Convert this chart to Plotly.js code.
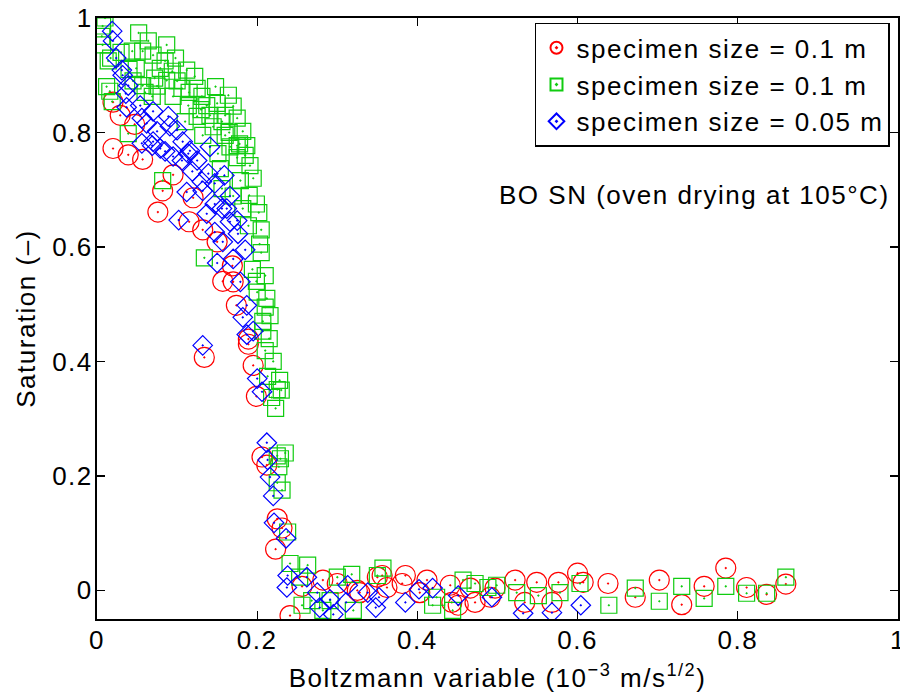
<!DOCTYPE html>
<html>
<head>
<meta charset="utf-8">
<script src="https://cdn.plot.ly/plotly-3.0.1.min.js"></script>
<style>
  html, body { margin: 0; padding: 0; background: #fff; }
  text { letter-spacing: 1.5px; }
</style>
</head>
<body>
<div id="chart" style="width:900px;height:695px;"></div>
<script>
// ---- data ----
const seriesNames = ["specimen size = 0.1 m", "specimen size = 0.1 m", "specimen size = 0.05 m"];

const redX = [0.020,0.029,0.047,0.020,0.039,0.057,0.095,0.082,0.076,0.120,
              0.115,0.132,0.150,0.169,0.157,0.170,0.174,0.189,0.189,0.134,
              0.195,0.199,0.206,0.212,0.225,0.231,0.223,0.241,0.256,0.282,
              0.300,0.325,0.328,0.350,0.356,0.362,0.381,0.385,0.403,0.412,
              0.441,0.443,0.451,0.466,0.472,0.491,0.497,0.522,0.534,0.549,
              0.568,0.576,0.600,0.607,0.638,0.672,0.702,0.730,0.758,0.785,
              0.811,0.836,0.860];
const redY = [0.853,0.830,0.814,0.772,0.761,0.753,0.726,0.698,0.661,0.686,
              0.644,0.630,0.609,0.567,0.540,0.539,0.498,0.439,0.430,0.407,
              0.393,0.339,0.233,0.219,0.125,0.109,0.072,-0.044,0.007,0.018,
              0.012,0.000,-0.004,0.023,0.026,0.005,0.012,0.026,-0.004,0.018,
              0.009,-0.021,-0.026,0.004,-0.021,-0.012,0.004,0.018,-0.021,0.014,
              -0.021,0.014,0.030,0.014,0.012,-0.012,0.018,-0.025,0.007,0.039,
              0.005,-0.007,0.011];

const greenX = [0.010,0.007,0.006,0.007,0.014,0.052,0.064,0.087,0.044,0.057,
                0.070,0.085,0.049,0.079,0.094,0.112,0.122,0.072,0.087,0.106,
                0.057,0.075,0.125,0.095,0.114,0.069,0.131,0.164,0.150,0.170,
                0.137,0.125,0.141,0.156,0.175,0.110,0.182,0.016,0.019,0.039,
                0.160,0.132,0.175,0.166,0.187,0.151,0.175,0.191,0.154,0.179,
                0.082,0.156,0.170,0.199,0.182,0.189,0.203,0.134,0.194,0.199,
                0.200,0.210,0.207,0.207,0.210,0.213,0.228,0.225,0.218,0.223,
                0.235,0.225,0.227,0.225,0.231,0.238,0.241,0.263,0.253,0.256,
                0.268,0.282,0.291,0.300,0.318,0.320,0.350,0.357,0.424,0.419,
                0.444,0.457,0.472,0.488,0.499,0.524,0.551,0.578,0.603,0.639,
                0.672,0.702,0.730,0.758,0.785,0.811,0.836,0.860,
                0.017,0.030,0.040,0.045,0.060,0.100,0.115,0.130,0.145,0.160,
                0.165,0.185,0.195,0.190,0.205,0.205,0.210,0.212,0.215,0.220,
                0.230,0.012,0.098,0.148,0.178,0.202,0.216,0.229];
const greenY = [1.000,0.986,0.968,0.953,0.925,0.974,0.960,0.953,0.942,0.942,
                0.935,0.925,0.912,0.912,0.907,0.909,0.898,0.895,0.891,0.877,
                0.882,0.881,0.877,0.863,0.847,0.863,0.863,0.865,0.851,0.846,
                0.847,0.828,0.830,0.819,0.825,0.819,0.802,0.872,0.854,0.798,
                0.795,0.795,0.777,0.775,0.777,0.763,0.756,0.742,0.737,0.716,
                0.716,0.702,0.689,0.675,0.667,0.637,0.605,0.581,0.561,0.540,
                0.521,0.495,0.470,0.453,0.419,0.374,0.367,0.351,0.337,0.318,
                0.240,0.235,0.216,0.188,0.175,0.102,0.047,0.044,0.023,-0.026,
                -0.018,-0.035,-0.018,0.023,0.028,-0.035,0.026,0.039,-0.012,-0.026,
                -0.035,0.018,0.012,0.005,0.009,-0.004,-0.009,-0.004,0.012,-0.026,
                0.004,-0.019,0.007,-0.014,0.007,-0.005,-0.005,0.023,
                0.930,0.940,0.910,0.890,0.870,0.890,0.870,0.840,0.810,0.830,
                0.800,0.760,0.720,0.690,0.630,0.590,0.550,0.510,0.440,0.400,
                0.350,0.880,0.930,0.880,0.780,0.660,0.480,0.230];

const blueX = [0.019,0.020,0.024,0.031,0.032,0.039,0.036,0.037,0.054,0.056,
               0.070,0.062,0.075,0.089,0.091,0.100,0.107,0.070,0.056,0.069,
               0.079,0.085,0.095,0.106,0.114,0.125,0.116,0.141,0.119,0.131,
               0.139,0.112,0.132,0.147,0.159,0.166,0.147,0.156,0.162,0.137,
               0.102,0.166,0.175,0.147,0.176,0.157,0.185,0.170,0.150,0.179,
               0.187,0.182,0.195,0.187,0.132,0.200,0.206,0.212,0.213,0.216,
               0.220,0.221,0.236,0.238,0.237,0.262,0.275,0.278,0.295,0.291,
               0.311,0.313,0.338,0.348,0.352,0.385,0.402,0.419,0.451,0.493,
               0.532,0.568,0.604];
const blueY = [0.977,0.960,0.930,0.909,0.900,0.882,0.868,0.844,0.847,0.825,
               0.837,0.816,0.802,0.828,0.811,0.804,0.784,0.784,0.781,0.777,
               0.772,0.767,0.758,0.751,0.763,0.751,0.768,0.775,0.732,0.714,
               0.728,0.696,0.698,0.711,0.725,0.689,0.675,0.667,0.667,0.658,
               0.647,0.644,0.646,0.626,0.623,0.609,0.595,0.579,0.572,0.539,
               0.498,0.477,0.453,0.447,0.428,0.370,0.347,0.258,0.228,0.198,
               0.165,0.118,0.091,0.026,0.005,0.023,-0.004,-0.030,-0.042,-0.016,
               -0.021,0.009,-0.004,-0.030,-0.012,-0.021,0.002,0.004,-0.009,-0.012,
               -0.040,-0.039,-0.026];

const tickVals = [0, 0.2, 0.4, 0.6, 0.8, 1];
const tickText = ["0", "0.2", "0.4", "0.6", "0.8", "1"];
const annotationText = "BO SN (oven drying at 105°C)";
const xTitle = "Boltzmann variable (10<sup>−3</sup> m/s<sup>1/2</sup>)";
const yTitle = "Saturation (–)";

// ---- chart ----
const FONT = "Liberation Sans, Arial, Helvetica, sans-serif";

const traces = [
  { x: redX, y: redY, name: seriesNames[0], type: "scatter", mode: "markers",
    marker: { symbol: "circle-open-dot", size: 20, color: "#ff0000", line: { width: 1.2 } } },
  { x: greenX, y: greenY, name: seriesNames[1], type: "scatter", mode: "markers",
    marker: { symbol: "square-open-dot", size: 16, color: "#10cc10", line: { width: 1.2 } } },
  { x: blueX, y: blueY, name: seriesNames[2], type: "scatter", mode: "markers",
    marker: { symbol: "diamond-open-dot", size: 15, color: "#0000ff", line: { width: 1.2 } } }
];

const axisCommon = {
  showline: true, linecolor: "#000", linewidth: 2, mirror: "ticks",
  ticks: "inside", ticklen: 8, tickwidth: 1.2, tickcolor: "#000",
  showgrid: false, zeroline: false,
  tickvals: tickVals, ticktext: tickText,
  ticklabeloverflow: "allow",
  tickfont: { family: FONT, size: 26, color: "#000" }
};

const layout = {
  width: 900, height: 695,
  margin: { l: 97, r: 2, t: 18, b: 76 },
  paper_bgcolor: "#fff", plot_bgcolor: "#fff",
  font: { family: FONT, size: 26, color: "#000" },
  xaxis: Object.assign({}, axisCommon, {
    range: [0, 1],
    ticklabelstandoff: -3,
    title: { text: xTitle, font: { family: FONT, size: 26, color: "#000" }, standoff: 15 }
  }),
  yaxis: Object.assign({}, axisCommon, {
    range: [-0.05, 1],
    ticklabelstandoff: -3,
    title: { text: yTitle, font: { family: FONT, size: 26, color: "#000" }, standoff: 9 }
  }),
  showlegend: true,
  legend: {
    x: 0.99, xanchor: "right", y: 0.992, yanchor: "top",
    bgcolor: "#fff", bordercolor: "#000", borderwidth: 1.5,
    font: { family: FONT, size: 26, color: "#000" },
    itemsizing: "constant", itemwidth: 30,
    tracegroupgap: 0
  },
  annotations: [{
    xref: "paper", yref: "paper", x: 0.993, y: 0.705,
    xanchor: "right", yanchor: "middle", showarrow: false,
    text: annotationText, font: { family: FONT, size: 26, color: "#000" }
  }]
};

Plotly.newPlot("chart", traces, layout, { staticPlot: true, displayModeBar: false });
</script>
</body>
</html>
